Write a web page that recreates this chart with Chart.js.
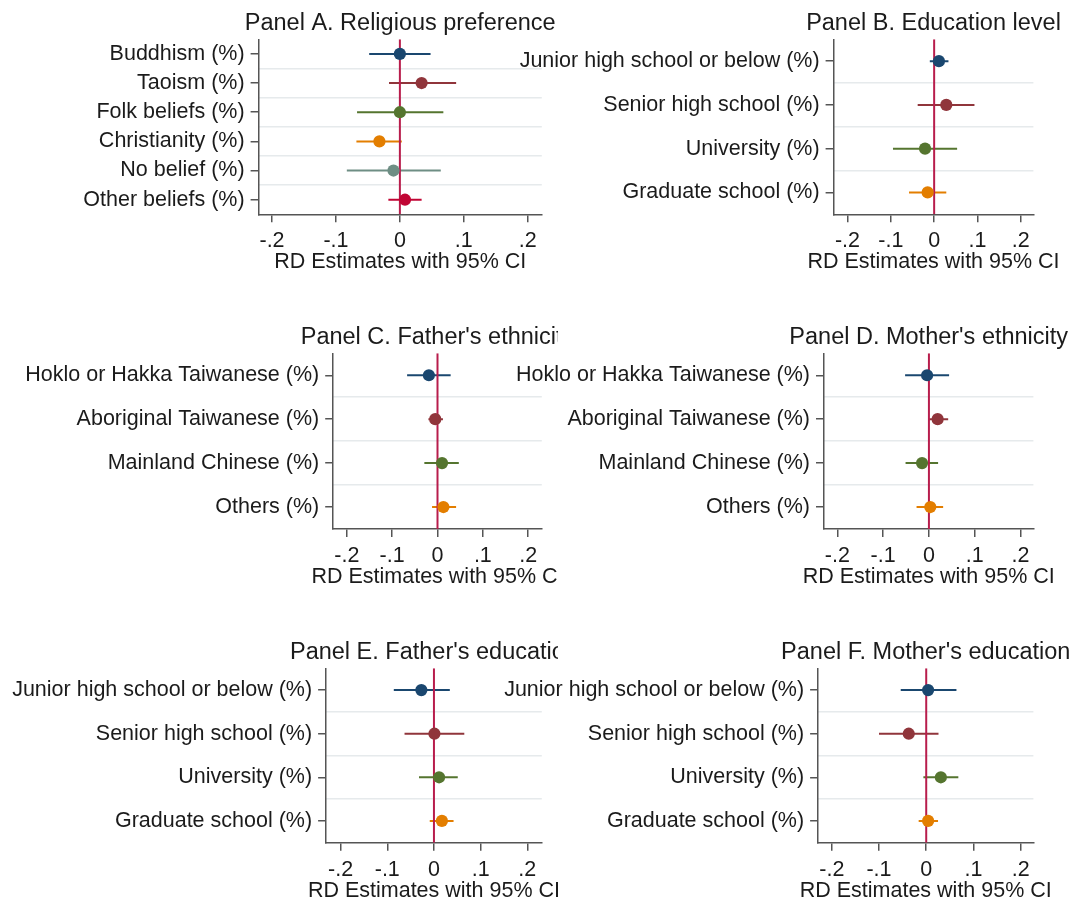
<!DOCTYPE html>
<html>
<head>
<meta charset="utf-8">
<script src="https://cdn.jsdelivr.net/npm/chart.js@4.4.1/dist/chart.umd.min.js"></script>
<style>
  html, body { margin: 0; padding: 0; background: #fff; }
  #wrap { position: relative; width: 1076px; height: 904px; overflow: hidden; }
  #wrap canvas { position: absolute; }
</style>
</head>
<body>
<div id="wrap">
  <canvas id="pA" width="558" height="300" style="left:0;top:0"></canvas>
  <canvas id="pB" width="576" height="300" style="left:500px;top:0"></canvas>
  <canvas id="pC" width="558" height="310" style="left:0;top:300px"></canvas>
  <canvas id="pD" width="576" height="310" style="left:500px;top:300px"></canvas>
  <canvas id="pE" width="558" height="294" style="left:0;top:610px"></canvas>
  <canvas id="pF" width="576" height="294" style="left:500px;top:610px"></canvas>
</div>
<script>
// ---- data (RD estimates and 95% CI bounds) ----
var religionLabels = ['Buddhism (%)', 'Taoism (%)', 'Folk beliefs (%)', 'Christianity (%)', 'No belief (%)', 'Other beliefs (%)'];
var religionEst = [0.000, 0.034, 0.000, -0.032, -0.010, 0.008];
var religionLo  = [-0.048, -0.017, -0.067, -0.068, -0.083, -0.018];
var religionHi  = [0.048, 0.088, 0.068, 0.003, 0.064, 0.034];

var eduLabels = ['Junior high school or below (%)', 'Senior high school (%)', 'University (%)', 'Graduate school (%)'];
var eduEst = [0.011, 0.028, -0.021, -0.015];
var eduLo  = [-0.010, -0.038, -0.095, -0.058];
var eduHi  = [0.033, 0.093, 0.053, 0.028];

var ethLabels = ['Hoklo or Hakka Taiwanese (%)', 'Aboriginal Taiwanese (%)', 'Mainland Chinese (%)', 'Others (%)'];
var fEthEst = [-0.019, -0.005, 0.010, 0.013];
var fEthLo  = [-0.067, -0.020, -0.029, -0.012];
var fEthHi  = [0.029, 0.012, 0.047, 0.041];

var mEthEst = [-0.004, 0.019, -0.015, 0.003];
var mEthLo  = [-0.052, -0.002, -0.051, -0.027];
var mEthHi  = [0.044, 0.042, 0.020, 0.031];

var fEduEst = [-0.027, 0.001, 0.011, 0.017];
var fEduLo  = [-0.086, -0.063, -0.032, -0.009];
var fEduHi  = [0.034, 0.065, 0.051, 0.042];

var mEduEst = [0.004, -0.037, 0.031, 0.004];
var mEduLo  = [-0.054, -0.100, -0.006, -0.016];
var mEduHi  = [0.064, 0.026, 0.068, 0.025];

var xTicks = [-0.2, -0.1, 0, 0.1, 0.2];
var refLine = 0;
var xTitle = 'RD Estimates with 95% CI';

// stata s2color palette
var palette = ['#1a476f', '#90353b', '#55752f', '#e37e00', '#6e8e84', '#c10534'];

var FONT = '"Liberation Sans", Arial, Helvetica, sans-serif';
var textColor = '#1b1b1b';
var axisColor = '#555555';
var gridColor = '#e6eaec';
var refColor = '#b81d4c';

Chart.defaults.font.family = FONT;
Chart.defaults.color = textColor;

function fmtTick(v) {
    if (Math.abs(v) < 1e-9) return '0';
    var s = (Math.round(v * 10) / 10).toString();
    return s.replace('0.', '.');
}

// panel title and x axis title, centered over the plot region
// (drawn here so the text is not squeezed to the plot width)
var panelText = {
    id: 'panelText',
    afterDraw: function (chart, args, opts) {
        var ctx = chart.ctx, ca = chart.chartArea;
        var cx = (ca.left + ca.right) / 2;
        ctx.save();
        ctx.fillStyle = textColor;
        ctx.textAlign = 'center';
        ctx.textBaseline = 'middle';
        ctx.font = '23.5px ' + FONT;
        ctx.fillText(opts.title, cx, ca.top - 16);
        ctx.font = '21.5px ' + FONT;
        ctx.fillText(opts.xTitle, cx, ca.bottom + 48);
        ctx.restore();
    }
};

function makePanel(id, p) {
    var canvas = document.getElementById(id);
    var n = p.labels.length;
    var yMin = 0.5, yMax = n + 0.5;
    var xAxisH = 61;
    var datasets = [];

    // markers on top
    datasets.push({
        label: 'est',
        data: p.est.map(function (v, i) { return {x: v, y: i + 1}; }),
        pointRadius: 6.1,
        pointBorderWidth: 0,
        pointBackgroundColor: p.est.map(function (v, i) { return palette[i]; }),
        showLine: false,
        order: 0
    });
    // reference line at zero
    datasets.push({
        label: 'ref',
        data: [{x: refLine, y: yMin}, {x: refLine, y: yMax}],
        showLine: true,
        borderColor: refColor,
        borderWidth: 2,
        pointRadius: 0,
        order: 1
    });
    // confidence intervals
    p.lo.forEach(function (lo, i) {
        datasets.push({
            label: 'ci' + i,
            data: [{x: lo, y: i + 1}, {x: p.hi[i], y: i + 1}],
            showLine: true,
            borderColor: palette[i],
            borderWidth: 2,
            pointRadius: 0,
            order: 2
        });
    });

    return new Chart(canvas, {
        type: 'scatter',
        data: {datasets: datasets},
        plugins: [panelText],
        options: {
            responsive: false,
            animation: false,
            devicePixelRatio: 1,
            layout: {
                padding: {
                    left: 0,
                    top: p.top,
                    right: canvas.width - p.right,
                    bottom: canvas.height - p.bottom - xAxisH
                }
            },
            plugins: {
                legend: {display: false},
                tooltip: {enabled: false},
                title: {display: false},
                panelText: {title: p.title, xTitle: xTitle}
            },
            scales: {
                x: {
                    type: 'linear',
                    min: p.xmin,
                    max: p.xmax,
                    afterBuildTicks: function (s) {
                        s.ticks = xTicks.map(function (v) { return {value: v}; });
                    },
                    afterFit: function (s) { s.height = xAxisH; },
                    ticks: {
                        callback: fmtTick,
                        font: {size: 21.5},
                        color: textColor,
                        padding: 6,
                        maxRotation: 0
                    },
                    grid: {
                        drawOnChartArea: false,
                        tickLength: 8,
                        color: axisColor,
                        lineWidth: 1.5
                    },
                    border: {display: true, color: axisColor, width: 1.5},
                    title: {display: false}
                },
                y: {
                    type: 'linear',
                    position: 'left',
                    reverse: true,
                    min: yMin,
                    max: yMax,
                    afterBuildTicks: function (s) {
                        s.ticks = p.labels.map(function (l, i) { return {value: i + 1}; });
                    },
                    afterFit: function (s) { s.width = p.left; },
                    ticks: {
                        callback: function (v) { return p.labels[Math.round(v) - 1]; },
                        font: {size: 21.5},
                        color: textColor,
                        padding: 6
                    },
                    grid: {
                        drawOnChartArea: false,
                        tickLength: 8,
                        color: axisColor,
                        lineWidth: 1.5
                    },
                    border: {display: true, color: axisColor, width: 1.5}
                },
                yGrid: {
                    type: 'linear',
                    position: 'left',
                    reverse: true,
                    min: yMin,
                    max: yMax,
                    afterBuildTicks: function (s) {
                        var t = [];
                        for (var i = 1; i < n; i++) t.push({value: i + 0.5});
                        s.ticks = t;
                    },
                    afterFit: function (s) { s.width = 0; },
                    ticks: {display: false},
                    grid: {
                        drawTicks: false,
                        color: gridColor,
                        lineWidth: 1.5
                    },
                    border: {display: false}
                }
            }
        }
    });
}

makePanel('pA', {title: 'Panel A. Religious preference', labels: religionLabels,
    est: religionEst, lo: religionLo, hi: religionHi,
    left: 258.6, right: 541.8, top: 39.3, bottom: 214.3, xmin: -0.221, xmax: 0.222});
makePanel('pB', {title: 'Panel B. Education level', labels: eduLabels,
    est: eduEst, lo: eduLo, hi: eduHi,
    left: 333.6, right: 533.4, top: 39.3, bottom: 214.3, xmin: -0.232, xmax: 0.229});
makePanel('pC', {title: "Panel C. Father's ethnicity", labels: ethLabels,
    est: fEthEst, lo: fEthLo, hi: fEthHi,
    left: 333.2, right: 541.8, top: 53.3, bottom: 229, xmin: -0.23, xmax: 0.23});
makePanel('pD', {title: "Panel D. Mother's ethnicity", labels: ethLabels,
    est: mEthEst, lo: mEthLo, hi: mEthHi,
    left: 324, right: 533.4, top: 53.3, bottom: 229, xmin: -0.229, xmax: 0.228});
makePanel('pE', {title: "Panel E. Father's education", labels: eduLabels,
    est: fEduEst, lo: fEduLo, hi: fEduHi,
    left: 326.1, right: 541.8, top: 58.3, bottom: 232.7, xmin: -0.231, xmax: 0.231});
makePanel('pF', {title: "Panel F. Mother's education", labels: eduLabels,
    est: mEduEst, lo: mEduLo, hi: mEduHi,
    left: 318.1, right: 533.4, top: 58.3, bottom: 232.7, xmin: -0.229, xmax: 0.227});
</script>
</body>
</html>
